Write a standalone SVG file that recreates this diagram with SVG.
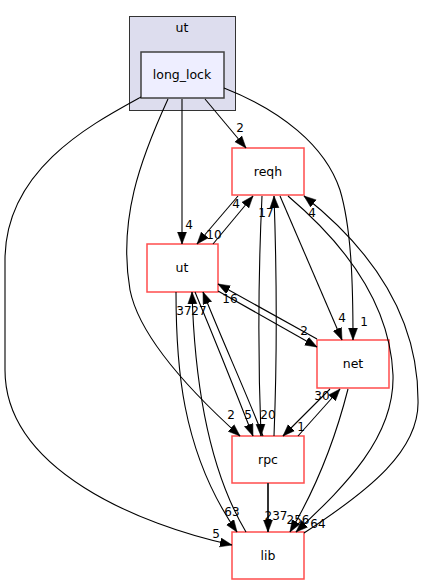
<svg xmlns="http://www.w3.org/2000/svg" width="424" height="585" viewBox="0 0 424 585">
<style>
text{font-family:"DejaVu Sans","Liberation Sans",sans-serif;font-size:12px;fill:#000}
.n rect{fill:#fff;stroke:#ff4d4d;stroke-width:1.5}
.n text,#long_lock text,#cluster_ut text{font-size:12.5px}
.e path{fill:none;stroke:#000;stroke-width:1.1;marker-end:url(#a)}
.l text{text-anchor:middle}
.c{text-anchor:middle}
</style>
<defs>
<marker id="a" markerUnits="userSpaceOnUse" markerWidth="13" markerHeight="11" refX="12" refY="5" orient="auto">
<path d="M0,0.5 L12,5 L0,9.5 z" fill="#000" stroke="#000" stroke-width="0.5"/>
</marker>
</defs>
<rect width="424" height="585" fill="#fff"/>
<g id="cluster_ut">
<rect x="129.5" y="16.5" width="106" height="94" fill="#ddddee" stroke="#333" stroke-width="1"/>
<text x="182" y="32" class="c">ut</text>
</g>
<g id="long_lock">
<rect x="141" y="52" width="83" height="46" fill="#eeeeff" stroke="#404040" stroke-width="1.5"/>
<text x="182" y="79" class="c">long_lock</text>
</g>
<g id="reqh" class="n"><rect x="232" y="148" width="72" height="47"/><text x="268" y="176" class="c">reqh</text></g>
<g id="ut" class="n"><rect x="147" y="244" width="71" height="48"/><text x="182" y="272" class="c">ut</text></g>
<g id="net" class="n"><rect x="317" y="340" width="72" height="48"/><text x="353" y="368" class="c">net</text></g>
<g id="rpc" class="n"><rect x="232" y="436" width="72" height="47"/><text x="268" y="464" class="c">rpc</text></g>
<g id="lib" class="n"><rect x="232" y="532" width="72" height="47"/><text x="268" y="560" class="c">lib</text></g>
<g id="edges" class="e">
<path d="M182,99 L182,244"/>
<path d="M205,99 L246,148"/>
<path d="M224,88 C280,110 325,145 340,190 C352,230 353,290 353,340"/>
<path d="M168,99 C140,160 118,220 130,290 C140,340 200,400 240,436"/>
<path d="M141,97 C90,125 5,170 5,260 L5,370 C5,470 140,525 232,545"/>
<path d="M238,196 L197,244"/>
<path d="M213,244 L253,196"/>
<path d="M218,291 L317,347"/>
<path d="M317,339 L218,284"/>
<path d="M280,196 L342,340"/>
<path d="M288,196 C340,240 390,300 393,375 C395,440 340,490 296,532"/>
<path d="M304,533 C370,490 420,450 418,400 C418,330 385,260 304,196"/>
<path d="M176,292 C176,360 180,450 237,532"/>
<path d="M246,532 C215,480 195,400 192,292"/>
<path d="M195,292 C215,340 235,390 253,436"/>
<path d="M263,436 C245,390 222,340 203,292"/>
<path d="M262,196 C258,280 258,360 261,436"/>
<path d="M274,436 C277,360 277,280 274,196"/>
<path d="M330,389 L283,436"/>
<path d="M298,436 L340,389"/>
<path d="M268,483 L268,532" style="stroke-width:2;stroke:#333"/>
<path d="M348,389 C335,440 315,490 290,532"/>
</g>
<g id="labels" class="l">
<text x="189" y="229">4</text>
<text x="240" y="132">2</text>
<text x="364" y="326">1</text>
<text x="231" y="419">2</text>
<text x="216" y="538">5</text>
<text x="214" y="239">10</text>
<text x="236" y="208">4</text>
<text x="304" y="335">2</text>
<text x="230" y="303">16</text>
<text x="342" y="322">4</text>
<text x="312" y="217">4</text>
<text x="232" y="516">63</text>
<text x="184" y="315">37</text>
<text x="248" y="419">5</text>
<text x="199" y="315">27</text>
<text x="268" y="419">20</text>
<text x="266" y="217">17</text>
<text x="301" y="431">1</text>
<text x="322" y="400">30</text>
<text x="276" y="520">237</text>
<text x="298" y="524">256</text>
<text x="318" y="528">64</text>
</g>
</svg>
